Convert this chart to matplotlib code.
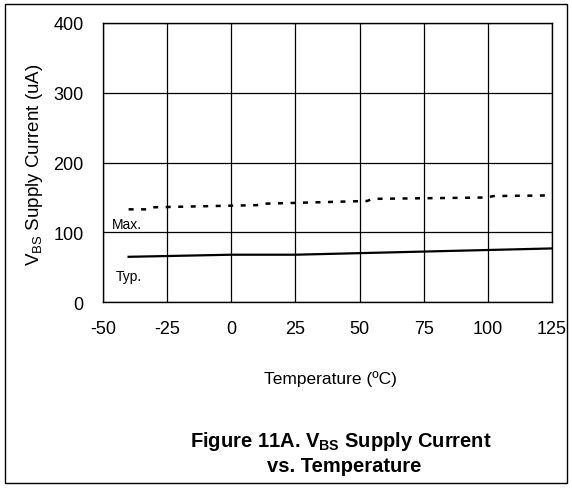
import matplotlib
matplotlib.use("Agg")
import matplotlib.pyplot as plt
from matplotlib.patches import Rectangle

plt.rcParams["font.family"] = ["Liberation Sans", "DejaVu Sans"]
plt.rcParams["axes.unicode_minus"] = False
plt.rcParams["mathtext.fontset"] = "custom"
plt.rcParams["mathtext.rm"] = "Liberation Sans"
plt.rcParams["mathtext.it"] = "Liberation Sans:italic"
plt.rcParams["mathtext.bf"] = "Liberation Sans:bold"

# Typical curve
typ_temp = [-40, 0, 25, 125]
typ_current = [65, 68, 68, 77]

# Maximum curve (small steps as in the datasheet plot)
max_temp = [-40, -32, -30, 10, 12, 53, 55, 100, 102, 125]
max_current = [133, 133, 136, 139, 141, 145, 148, 150, 152, 153]

x_ticks = [-50, -25, 0, 25, 50, 75, 100, 125]
y_ticks = [0, 100, 200, 300, 400]

fig = plt.figure(figsize=(5.72, 4.89), dpi=100)
ax = fig.add_axes([0.180, 0.380, 0.785, 0.571])

ax.plot(typ_temp, typ_current, color="black", linewidth=1.6)
ax.plot(max_temp, max_current, color="black", linewidth=1.8,
        linestyle=(0, (2, 3)))

ax.text(-46.5, 102, "Max.", fontsize=10, ha="left", va="bottom")
ax.text(-45, 38, "Typ.", fontsize=10, ha="left", va="center")

ax.set_xlim(-50, 125)
ax.set_ylim(0, 400)
ax.set_xticks(x_ticks)
ax.set_yticks(y_ticks)
ax.tick_params(length=0, labelsize=13)
ax.tick_params(axis="x", pad=13)
ax.tick_params(axis="y", pad=14)
ax.grid(True, color="black", linewidth=0.9)
ax.set_axisbelow(True)
for s in ax.spines.values():
    s.set_color("black")
    s.set_linewidth(1.0)

fig.text(35 / 572, 1 - 165 / 489, r"V$_{\mathrm{BS}}$ Supply Current (uA)",
         rotation=90, ha="center", va="center", fontsize=13.5)
fig.text(330 / 572, 1 - 379 / 489, "Temperature (ºC)",
         ha="center", va="center", fontsize=12.5)
fig.text(341 / 572, 1 - 442 / 489, r"Figure 11A. V$_{\mathbf{BS}}$ Supply Current",
         ha="center", va="center", fontsize=14.5, fontweight="bold")
fig.text(344 / 572, 1 - 467 / 489, "vs. Temperature",
         ha="center", va="center", fontsize=14.5, fontweight="bold")

fig.patches.append(Rectangle((5 / 572, 5 / 489), 562 / 572, 479 / 489,
                             transform=fig.transFigure, fill=False,
                             edgecolor="black", linewidth=1.0))

fig.savefig("out.png", dpi=100)
